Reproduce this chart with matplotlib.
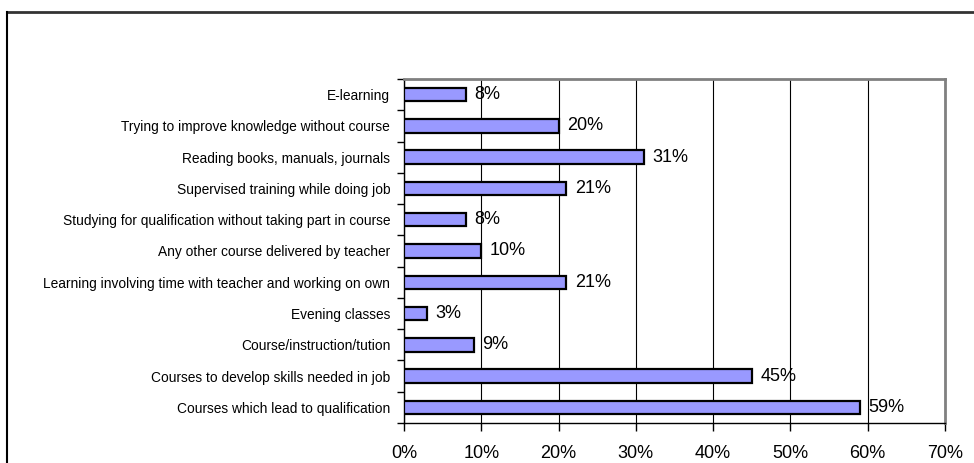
import numpy as np
import matplotlib.pyplot as plt
from matplotlib.lines import Line2D

plt.rcParams['font.family'] = ['Liberation Sans', 'DejaVu Sans']

# bottom to top
categories = [
    "Courses which lead to qualification",
    "Courses to develop skills needed in job",
    "Course/instruction/tution",
    "Evening classes",
    "Learning involving time with teacher and working on own",
    "Any other course delivered by teacher",
    "Studying for qualification without taking part in course",
    "Supervised training while doing job",
    "Reading books, manuals, journals",
    "Trying to improve knowledge without course",
    "E-learning",
]
values = [59, 45, 9, 3, 21, 10, 8, 21, 31, 20, 8]
xticks = [0, 10, 20, 30, 40, 50, 60, 70]

fig = plt.figure(figsize=(9.74, 4.63), dpi=100)
ax = fig.add_axes([0.4148, 0.0864, 0.5554, 0.743])

y = np.arange(len(categories))
ax.barh(y, values, height=0.43, color='#9999FF', edgecolor='black', linewidth=1.6, zorder=3)

for yi, v in zip(y, values):
    ax.text(v + 1.1, yi, f"{v}%", va='center', ha='left', fontsize=13, zorder=4)

ax.set_xlim(0, 70)
ax.set_ylim(-0.5, len(categories) - 0.5)
ax.set_xticks(xticks)
ax.set_xticklabels([f"{t}%" for t in xticks], fontsize=13)
ax.xaxis.grid(True, color='black', linewidth=0.8, zorder=0)

# category labels centred on bars, tick marks on category boundaries
ax.set_yticks(y)
ax.set_yticklabels(categories, fontsize=9.9)
ax.tick_params(axis='y', length=0, pad=10)
ax.set_yticks(np.arange(-0.5, len(categories)), minor=True)
ax.tick_params(axis='y', which='minor', length=5, width=1, direction='out')
ax.tick_params(axis='x', length=6, width=1, direction='out', pad=10)

for side in ('top', 'right'):
    ax.spines[side].set_color('#808080')
    ax.spines[side].set_linewidth(2)
for side in ('left', 'bottom'):
    ax.spines[side].set_color('black')
    ax.spines[side].set_linewidth(1)

# outer chart frame
fig.add_artist(Line2D([0.0077, 1.0], [0.975, 0.975], transform=fig.transFigure, color='#333333', linewidth=2))
fig.add_artist(Line2D([0.0077, 0.0077], [0.0, 0.975], transform=fig.transFigure, color='black', linewidth=1.5))

fig.savefig('out.png', dpi=100)
